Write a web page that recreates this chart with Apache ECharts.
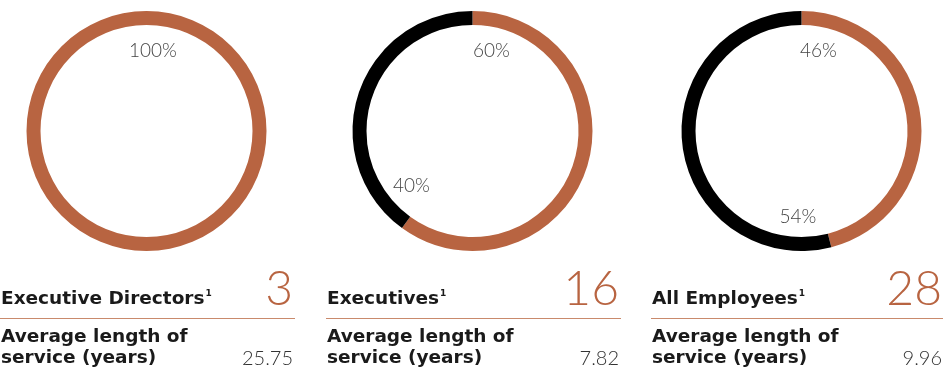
<!DOCTYPE html>
<html><head><meta charset="utf-8">
<script src="https://cdn.jsdelivr.net/npm/echarts@6/dist/echarts.min.js"></script>
<style>html,body{margin:0;padding:0;background:#fff}#c{width:943px;height:371px}</style>
</head><body><div id="c"></div>
<script>
const categories = ['Executive Directors', 'Executives', 'All Employees'];
const orangeShare = [100, 60, 46];
const blackShare = [0, 40, 54];
const headcount = ['3', '16', '28'];
const avgService = ['25.75', '7.82', '9.96'];

const ORANGE = '#B86441';
const BLACK = '#000000';
const centersX = [146.5, 472.5, 801.5];
const centerY = 131;
const panelLeft = [1, 327, 652];
const panelRight = [293, 619, 942];
const orangeLabelPos = [[153, 51], [491.5, 51], [818.5, 51]];
const blackLabelPos = [null, [411.5, 186], [798, 217]];

const LIGHT = 'Lato, "Open Sans", sans-serif';
const HEAVY = '"DejaVu Sans", sans-serif';

const chart = echarts.init(document.getElementById('c'), null, {renderer: 'canvas'});

const series = categories.map((name, i) => ({
  type: 'pie',
  name: name,
  center: [centersX[i], centerY],
  radius: [106, 120],
  startAngle: 90,
  clockwise: true,
  silent: true,
  label: {show: false},
  labelLine: {show: false},
  emphasis: {disabled: true},
  itemStyle: {borderWidth: 0},
  data: [
    {name: 'A', value: orangeShare[i], itemStyle: {color: ORANGE}},
    {name: 'B', value: blackShare[i], itemStyle: {color: BLACK}}
  ]
}));

const graphics = [];
categories.forEach((name, i) => {
  graphics.push({type: 'text', x: orangeLabelPos[i][0], y: orangeLabelPos[i][1], style: {
    text: orangeShare[i] + '%', font: '300 19px ' + LIGHT, fill: '#444', align: 'center', verticalAlign: 'middle'}});
  if (blackShare[i] > 0 && blackLabelPos[i]) {
    graphics.push({type: 'text', x: blackLabelPos[i][0], y: blackLabelPos[i][1], style: {
      text: blackShare[i] + '%', font: '300 19px ' + LIGHT, fill: '#444', align: 'center', verticalAlign: 'middle'}});
  }
  graphics.push({type: 'text', x: panelLeft[i], y: 299, style: {
    text: '{t|' + name + '}{s|1}', verticalAlign: 'middle', align: 'left',
    rich: {
      t: {font: 'bold 18.5px ' + HEAVY, fill: '#1a1a1a'},
      s: {font: 'bold 9px ' + HEAVY, fill: '#1a1a1a', verticalAlign: 'top', padding: [0, 0, 8, 1]}
    }
  }});
  graphics.push({type: 'text', x: panelRight[i], y: 290, style: {
    text: headcount[i], font: '300 48px ' + LIGHT, fill: ORANGE, align: 'right', verticalAlign: 'middle'}});
  graphics.push({type: 'line', shape: {x1: panelLeft[i] - 1, y1: 318.5, x2: panelRight[i] + 2, y2: 318.5},
    style: {stroke: '#C98A6C', lineWidth: 1}});
  graphics.push({type: 'text', x: panelLeft[i], y: 337.5, style: {
    text: 'Average length of', font: 'bold 18.5px ' + HEAVY, fill: '#1a1a1a', align: 'left', verticalAlign: 'middle'}});
  graphics.push({type: 'text', x: panelLeft[i], y: 358.5, style: {
    text: 'service (years)', font: 'bold 18.5px ' + HEAVY, fill: '#1a1a1a', align: 'left', verticalAlign: 'middle'}});
  graphics.push({type: 'text', x: panelRight[i], y: 358.5, style: {
    text: avgService[i], font: '300 20px ' + LIGHT, fill: '#333', align: 'right', verticalAlign: 'middle'}});
});

chart.setOption({
  animation: false,
  series: series,
  graphic: graphics
});
</script></body></html>
